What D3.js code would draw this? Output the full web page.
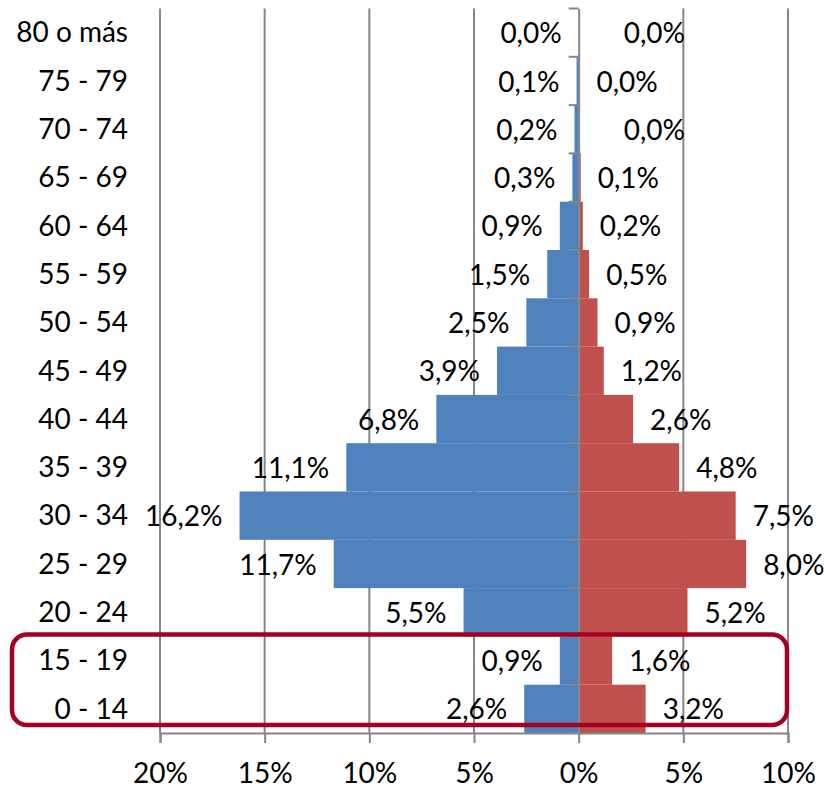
<!DOCTYPE html>
<html>
<head>
<meta charset="utf-8">
<script src="https://cdn.jsdelivr.net/npm/d3@7"></script>
<style>
  body { margin: 0; background: #fff; }
  text { font-family: Lato, "Noto Sans", sans-serif; fill: #000; }
</style>
</head>
<body>
<div id="chart"></div>
<script>
// age groups, top to bottom
const ageGroups = ["80 o más", "75 - 79", "70 - 74", "65 - 69", "60 - 64", "55 - 59", "50 - 54",
    "45 - 49", "40 - 44", "35 - 39", "30 - 34", "25 - 29", "20 - 24", "15 - 19", "0 - 14"];
// left side (blue), percent
const leftValues = [0.0, 0.1, 0.2, 0.3, 0.9, 1.5, 2.5, 3.9, 6.8, 11.1, 16.2, 11.7, 5.5, 0.9, 2.6];
// right side (red), percent
const rightValues = [0.0, 0.04, 0.0, 0.1, 0.2, 0.5, 0.9, 1.2, 2.6, 4.8, 7.5, 8.0, 5.2, 1.6, 3.2];
const xTicks = [-20, -15, -10, -5, 0, 5, 10];
const highlighted = ["15 - 19", "0 - 14"];

const W = 829, H = 790;
const fontSize = 28;

const svg = d3.select("#chart").append("svg")
    .attr("width", W)
    .attr("height", H);

const x = d3.scaleLinear().domain([-20, 10]).range([160, 788]);
const y = d3.scaleBand().domain(ageGroups).range([8.5, 733]).padding(0);

const locale = d3.formatLocale({ decimal: ",", thousands: ".", grouping: [3], currency: ["", "€"] });
const fmt = locale.format(".1f");

// vertical gridlines
svg.append("g")
    .selectAll("line")
    .data(xTicks.filter(d => d !== 0))
    .enter().append("line")
    .attr("x1", d => x(d)).attr("x2", d => x(d))
    .attr("y1", y.range()[0]).attr("y2", y.range()[1])
    .attr("stroke", "#868686")
    .attr("stroke-width", 2);

// bars
const rows = ageGroups.map((g, i) => ({ group: g, left: leftValues[i], right: rightValues[i] }));

svg.append("g").selectAll("rect")
    .data(rows)
    .enter().append("rect")
    .attr("x", d => x(-d.left))
    .attr("y", d => y(d.group))
    .attr("width", d => x(0) - x(-d.left))
    .attr("height", y.bandwidth())
    .attr("fill", "#4F81BD");

svg.append("g").selectAll("rect")
    .data(rows)
    .enter().append("rect")
    .attr("x", x(0))
    .attr("y", d => y(d.group))
    .attr("width", d => x(d.right) - x(0))
    .attr("height", y.bandwidth())
    .attr("fill", "#C0504D");

// bottom axis
const xAxis = svg.append("g")
    .attr("transform", "translate(0," + y.range()[1] + ")")
    .call(d3.axisBottom(x).tickValues(xTicks).tickSize(10).tickFormat(d => Math.abs(d) + "%"));
xAxis.select(".domain").attr("stroke", "#868686").attr("stroke-width", 2);
xAxis.selectAll(".tick line").attr("stroke", "#868686").attr("stroke-width", 2);
xAxis.selectAll(".tick text")
    .attr("y", 30)
    .attr("dy", "0.71em")
    .style("font-size", fontSize + "px")
    .style("font-family", "Lato, sans-serif")
    .attr("fill", "#000");

// category axis at 0%
const yAxis = svg.append("g")
    .attr("transform", "translate(" + x(0) + ",0)")
    .call(d3.axisLeft(y).tickSize(0).tickFormat(""));
yAxis.select(".domain").attr("stroke", "#868686").attr("stroke-width", 2);
yAxis.selectAll(".tick").remove();

// tick marks on the band boundaries
const bounds = ageGroups.map(g => y(g)).concat([y.range()[1]]);
yAxis.selectAll(".bound")
    .data(bounds)
    .enter().append("line")
    .attr("class", "bound")
    .attr("x1", -10).attr("x2", 0)
    .attr("y1", d => d).attr("y2", d => d)
    .attr("stroke", "#868686")
    .attr("stroke-width", 2);

// category labels
svg.append("g").selectAll("text")
    .data(ageGroups)
    .enter().append("text")
    .attr("x", 128)
    .attr("y", d => y(d) + y.bandwidth() / 2)
    .attr("dy", "0.35em")
    .attr("text-anchor", "end")
    .style("font-size", fontSize + "px")
    .text(d => d);

// value labels
svg.append("g").selectAll("text")
    .data(rows)
    .enter().append("text")
    .attr("x", d => x(-d.left) - 17)
    .attr("y", d => y(d.group) + y.bandwidth() / 2)
    .attr("dy", "0.38em")
    .attr("text-anchor", "end")
    .style("font-size", fontSize + "px")
    .text(d => fmt(d.left) + "%");

// a couple of zero labels were moved aside in the original
const nudge = { "80 o más": 28, "70 - 74": 28 };
svg.append("g").selectAll("text")
    .data(rows)
    .enter().append("text")
    .attr("y", d => y(d.group) + y.bandwidth() / 2)
    .attr("dy", "0.38em")
    .style("font-size", fontSize + "px")
    .text(d => fmt(d.right) + "%")
    .attr("x", function(d) {
        const w = this.getComputedTextLength();
        const pos = x(d.right) + 17 + (nudge[d.group] || 0);
        return Math.min(pos, W - 3 - w);
    });

// highlight box around the youngest groups
const boxTop = y(highlighted[0]) - 2;
const boxBottom = y(highlighted[highlighted.length - 1]) + y.bandwidth() - 8;
svg.append("rect")
    .attr("x", 12)
    .attr("y", boxTop)
    .attr("width", x(10) - 1 - 12)
    .attr("height", boxBottom - boxTop)
    .attr("rx", 15)
    .attr("fill", "none")
    .attr("stroke", "#A50021")
    .attr("stroke-width", 4.5);
</script>
</body>
</html>
